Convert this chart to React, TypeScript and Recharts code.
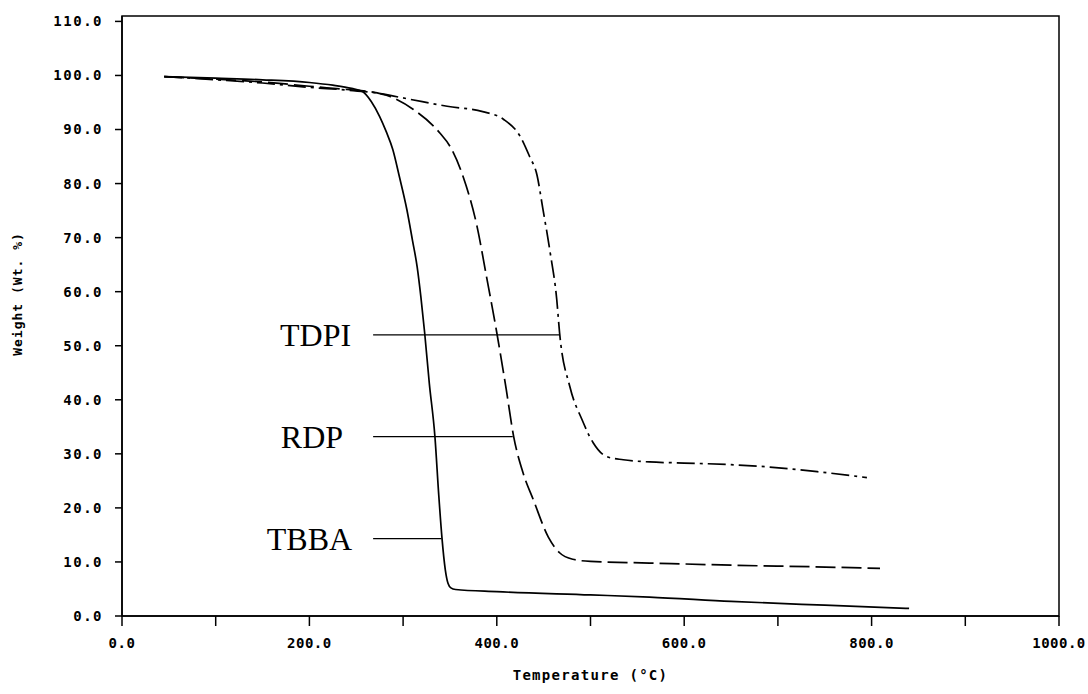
import { LineChart, Line, XAxis, YAxis, ReferenceLine, ReferenceArea } from "recharts";

// axis ticks
const xTicks = [0, 100, 200, 300, 400, 500, 600, 700, 800, 900, 1000];
const yTicks = [0, 10, 20, 30, 40, 50, 60, 70, 80, 90, 100, 110];

// TBBA (solid)
const tbbaTemp = [45, 100, 150, 200, 225, 245, 257, 266, 275, 282, 289, 296, 304, 310, 315, 319, 323, 328, 334, 338, 341.5, 345, 348, 351, 356, 400, 500, 563, 650, 750, 840];
const tbbaWeight = [99.8, 99.5, 99.2, 98.7, 98.2, 97.6, 97.0, 95.2, 92.4, 89.6, 86.3, 81.3, 75.2, 69.5, 64.6, 59.0, 52.4, 43.0, 33.1, 22.5, 14.4, 8.6, 6.0, 5.2, 4.9, 4.5, 3.9, 3.5, 2.7, 2.0, 1.4];

// RDP (dashed)
const rdpTemp = [45, 100, 150, 200, 240, 265, 286, 311, 339, 350, 364, 379, 389, 400, 410, 418, 428, 439, 455, 467, 481, 500, 563, 650, 740, 809];
const rdpWeight = [99.8, 99.3, 98.8, 98.0, 97.4, 97.0, 96.1, 93.7, 89.4, 86.9, 81.3, 72.0, 62.8, 52.4, 42.0, 33.2, 26.5, 21.5, 14.6, 11.7, 10.5, 10.1, 9.8, 9.4, 9.1, 8.8];

// TDPI (dash-dot)
const tdpiTemp = [45, 100, 150, 200, 240, 270, 307, 347, 385, 407, 425, 435, 443, 449, 457, 464, 467, 478, 491, 503, 517, 535, 563, 600, 650, 688, 742, 795];
const tdpiWeight = [99.8, 99.2, 98.6, 97.8, 97.3, 96.8, 95.6, 94.3, 93.3, 91.9, 88.7, 85.0, 81.5, 75.5, 67.2, 58.5, 52.4, 42.4, 36.3, 32.0, 29.5, 28.9, 28.5, 28.3, 28.0, 27.6, 26.7, 25.6];

// callout labels and their leader lines
const calloutNames = ["TDPI", "RDP", "TBBA"];
const calloutWeight = [52.0, 33.2, 14.3];
const calloutStart = [268, 268, 268];
const calloutEnd = [467, 417, 341];
const calloutOffset = [22, 30, 21];

const MONO = '"DejaVu Sans Mono", monospace';
const SERIF = '"Liberation Serif", "Times New Roman", serif';

const toPoints = (t: number[], w: number[]) => t.map((v, i) => ({ t: v, w: w[i] }));

const tbba = toPoints(tbbaTemp, tbbaWeight);
const rdp = toPoints(rdpTemp, rdpWeight);
const tdpi = toPoints(tdpiTemp, tdpiWeight);

const YLabel = (p: any) => {
  const vb = p.viewBox;
  const cx = vb.x + 17;
  const cy = vb.y + vb.height / 2 - 22;
  return (
    <text
      x={cx}
      y={cy}
      transform={`rotate(-90 ${cx} ${cy})`}
      textAnchor="middle"
      dominantBaseline="central"
      fontFamily={MONO}
      fontSize={13}
      fontWeight="bold"
      letterSpacing={1}
      fill="#000"
    >
      Weight (Wt. %)
    </text>
  );
};

export default function App() {
  return (
    <div style={{ position: "absolute", left: 0, top: 0, background: "#fff" }}>
      <LineChart width={1088} height={694} margin={{ top: 16, right: 29, bottom: 8, left: 0 }}>
        <XAxis
          type="number"
          dataKey="t"
          domain={[0, 1000]}
          ticks={xTicks}
          allowDataOverflow
          tickFormatter={(v: number) => (v % 200 === 0 ? v.toFixed(1) : "")}
          tickSize={10}
          tickMargin={12}
          height={70}
          axisLine={{ stroke: "#000", strokeWidth: 1.5 }}
          tickLine={{ stroke: "#000", strokeWidth: 1.5 }}
          tick={{ fill: "#000", fontFamily: MONO, fontSize: 14, fontWeight: "bold", letterSpacing: 0.5 }}
          label={{
            value: "Temperature (°C)",
            position: "insideBottom",
            offset: 6,
            fill: "#000",
            fontFamily: MONO,
            fontSize: 14,
            fontWeight: "bold",
            letterSpacing: 1.3,
          }}
        />
        <YAxis
          type="number"
          domain={[0, 111]}
          ticks={yTicks}
          allowDataOverflow
          tickFormatter={(v: number) => v.toFixed(1)}
          width={122}
          tickSize={7}
          tickMargin={12}
          axisLine={{ stroke: "#000", strokeWidth: 1.5 }}
          tickLine={{ stroke: "#000", strokeWidth: 1.5 }}
          tick={{ fill: "#000", fontFamily: MONO, fontSize: 14, fontWeight: "bold", letterSpacing: 1.5 }}
          label={{ content: YLabel }}
        />
        <ReferenceArea x1={0} x2={1000} y1={0} y2={111} fill="none" stroke="#000" strokeWidth={1.5} />
        {calloutNames.map((name, i) => (
          <ReferenceLine
            key={name}
            segment={[
              { x: calloutStart[i], y: calloutWeight[i] },
              { x: calloutEnd[i], y: calloutWeight[i] },
            ]}
            stroke="#000"
            strokeWidth={1.2}
            label={{
              value: name,
              position: "left",
              offset: calloutOffset[i],
              fill: "#000",
              fontFamily: SERIF,
              fontSize: 32,
            }}
          />
        ))}
        <Line data={tbba} dataKey="w" type="monotone" stroke="#000" strokeWidth={1.7} dot={false} isAnimationActive={false} />
        <Line data={rdp} dataKey="w" type="monotone" stroke="#000" strokeWidth={1.7} strokeDasharray="20 6" dot={false} isAnimationActive={false} />
        <Line data={tdpi} dataKey="w" type="monotone" stroke="#000" strokeWidth={1.7} strokeDasharray="18 5 3 5" dot={false} isAnimationActive={false} />
      </LineChart>
    </div>
  );
}
